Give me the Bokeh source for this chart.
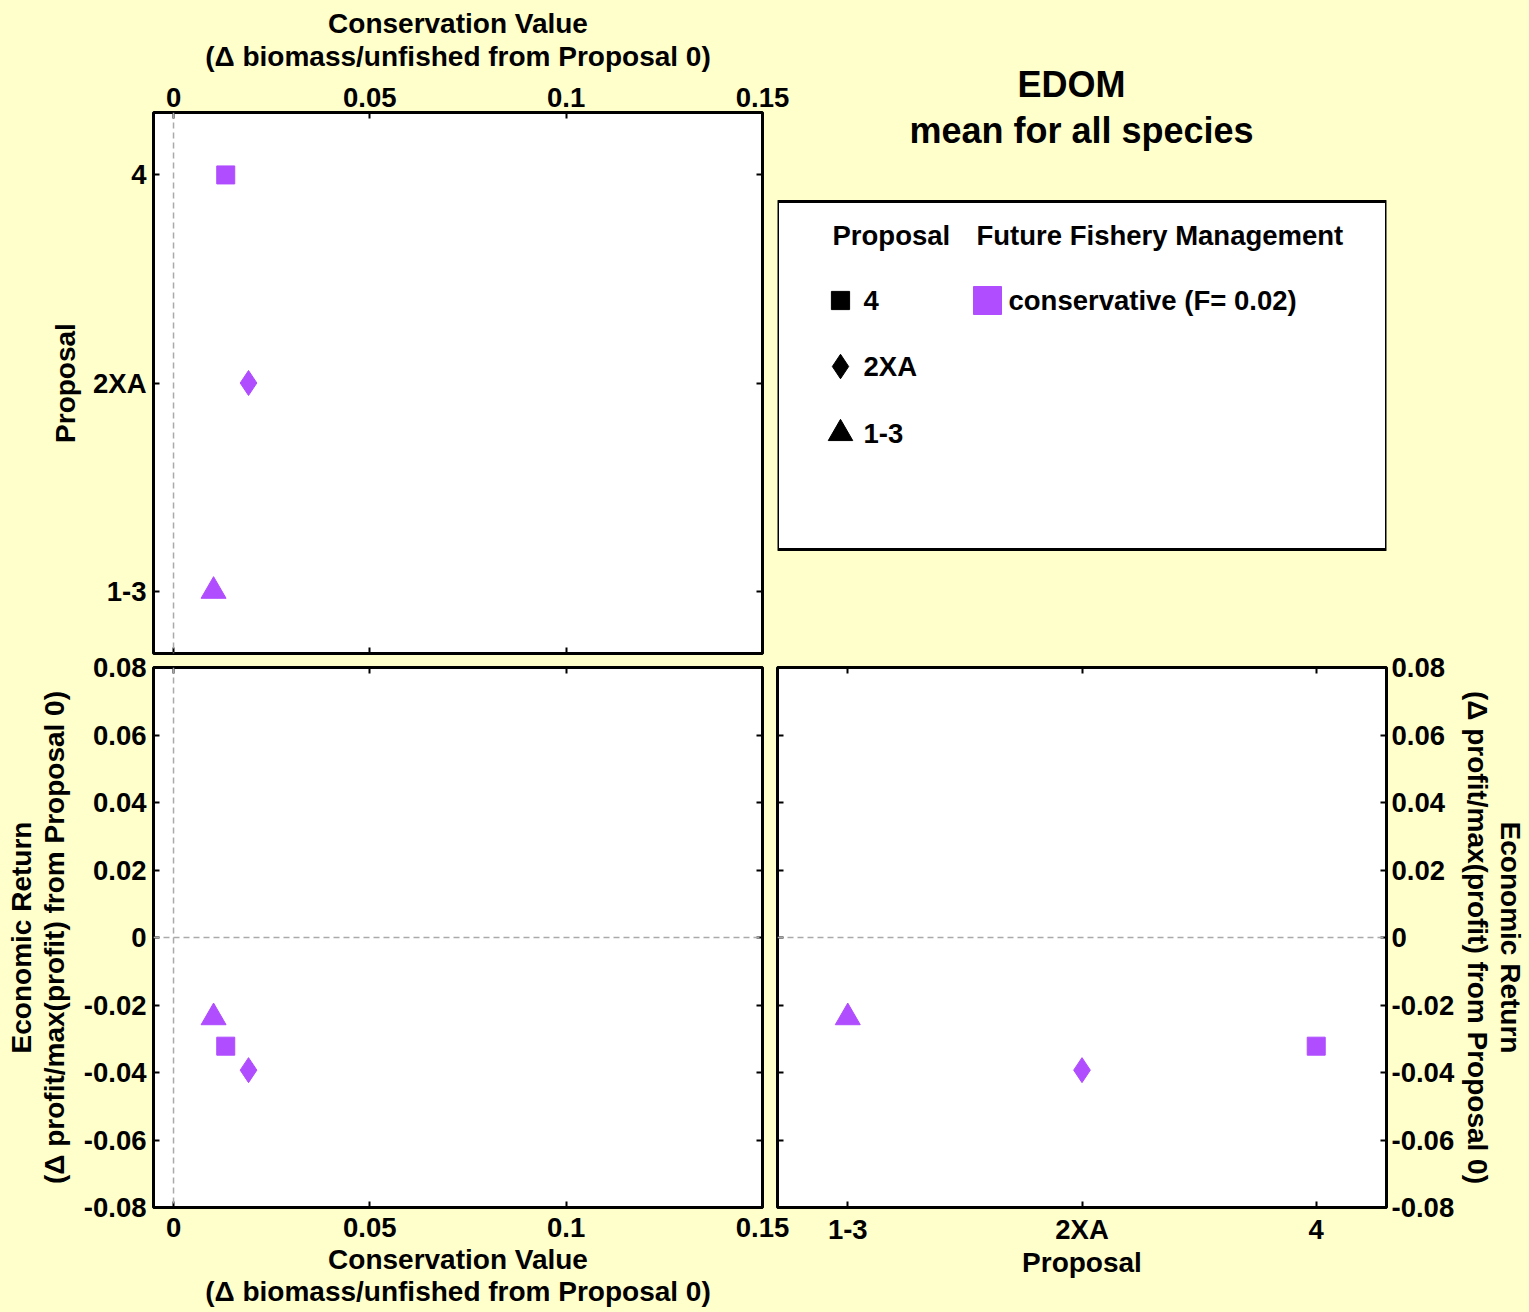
from bokeh.plotting import figure
from bokeh.models import FixedTicker, LinearAxis, Span, Range1d, Label
from bokeh.layouts import column, row
from bokeh.core.properties import value
from bokeh.embed import file_html
from bokeh.resources import INLINE

# ---- data -------------------------------------------------------------
proposal_order = ["1-3", "2XA", "4"]          # category order along the proposal axis
proposals = ["4", "2XA", "1-3"]
conservation = [0.0133, 0.0191, 0.0102]        # delta biomass/unfished from Proposal 0
economic = [-0.0322, -0.0393, -0.0237]         # delta profit/max(profit) from Proposal 0

cons_ticks = [0, 0.05, 0.1, 0.15]
cons_tick_labels = ["0", "0.05", "0.1", "0.15"]
econ_ticks = [-0.08, -0.06, -0.04, -0.02, 0, 0.02, 0.04, 0.06, 0.08]
econ_tick_labels = ["-0.08", "-0.06", "-0.04", "-0.02", "0", "0.02", "0.04", "0.06", "0.08"]

management = "conservative (F= 0.02)"
title_lines = ["EDOM", "mean for all species"]

# ---- styling ----------------------------------------------------------
BG = "#FFFFCC"
PURPLE = "#B04DFF"
FONT = "Liberation Sans"
TICK_FS = "27.5px"
LABEL_FS = "28px"
KEY_FS = "27.5px"
TITLE_FS = "36px"
LINE_H = 1.05
marker_style = {"4": ("square", 18), "2XA": ("diamond", 25), "1-3": ("triangle", 25)}

cons_label = "Conservation Value\n(\u0394 biomass/unfished from Proposal 0)"
econ_label = "Economic Return\n(\u0394 profit/max(profit) from Proposal 0)"

prop_pos = {p: i + 1 for i, p in enumerate(proposal_order)}
prop_ticks = [prop_pos[p] for p in proposal_order]
prop_overrides = {prop_pos[p]: p for p in proposal_order}
cons_overrides = dict(zip(cons_ticks, cons_tick_labels))
econ_overrides = dict(zip(econ_ticks, econ_tick_labels))

FRAME_W = 609
TOP_FRAME_H = 541
BOT_FRAME_H = 540
OVERLAP_X = 23    # right-hand panels slide under the left panels' spare border
OVERLAP_Y = 20    # bottom row slides under the top row's spare border
SPILL_R = 40      # right axis text may run past the page edge without squeezing the row


def base_fig(xr, yr, frame_h, **kw):
    p = figure(frame_width=FRAME_W, frame_height=frame_h, x_range=xr, y_range=yr,
               output_backend="svg", toolbar_location=None,
               background_fill_color="white", border_fill_alpha=0,
               outline_line_color="black", outline_line_width=3, **kw)
    p.grid.visible = False
    return p


def style_axis(ax, ticks, overrides, label=None, show_labels=True,
               tick_standoff=4, label_standoff=10):
    ax.ticker = FixedTicker(ticks=ticks)
    ax.major_label_overrides = overrides
    ax.axis_line_color = None
    ax.major_tick_in = 6
    ax.major_tick_out = 0
    ax.major_tick_line_width = 2
    ax.major_tick_line_color = "black"
    ax.minor_tick_line_color = None
    if show_labels:
        ax.major_label_text_font = FONT
        ax.major_label_text_font_style = "bold"
        ax.major_label_text_font_size = TICK_FS
        ax.major_label_text_color = "black"
        ax.major_label_standoff = tick_standoff
    else:
        ax.major_label_text_font_size = "0px"
        ax.major_label_text_color = None
        ax.major_label_standoff = 0
    if label:
        ax.axis_label = label
        ax.axis_label_text_font = FONT
        ax.axis_label_text_font_style = "bold"
        ax.axis_label_text_font_size = LABEL_FS
        ax.axis_label_text_color = "black"
        ax.axis_label_text_line_height = LINE_H
        ax.axis_label_standoff = label_standoff


def tick_only_axis(p, side, ticks, overrides):
    ax = LinearAxis()
    p.add_layout(ax, side)
    style_axis(ax, ticks, overrides, show_labels=False)


def zero_line(p, dim):
    p.add_layout(Span(location=0, dimension=dim, line_color="#AAAAAA",
                      line_width=1.5, line_dash="6 4"))


def draw_points(p, xs, ys):
    for prop, x, y in zip(proposals, xs, ys):
        marker, size = marker_style[prop]
        p.scatter([x], [y], marker=marker, size=size,
                  fill_color=PURPLE, line_color=PURPLE)


cons_range = (-0.0051, 0.15)
econ_range = (-0.08, 0.08)
prop_range = (0.7, 3.3)

# ---- top left: conservation value vs proposal --------------------------
tl = base_fig(Range1d(*cons_range), Range1d(*prop_range), TOP_FRAME_H,
              x_axis_location="above",
              min_border_left=153, min_border_right=7 + OVERLAP_X,
              min_border_top=112, min_border_bottom=7)
style_axis(tl.xaxis[0], cons_ticks, cons_overrides, cons_label,
           tick_standoff=6, label_standoff=13)
style_axis(tl.yaxis[0], prop_ticks, prop_overrides, "Proposal",
           tick_standoff=7, label_standoff=9)
tick_only_axis(tl, "below", cons_ticks, cons_overrides)
tick_only_axis(tl, "right", prop_ticks, prop_overrides)
zero_line(tl, "height")
draw_points(tl, conservation, [prop_pos[p] for p in proposals])

# ---- top right: title and key (frame spans the page box x 777-1386, y 112-653)
tr = figure(frame_width=FRAME_W, frame_height=TOP_FRAME_H,
            x_range=Range1d(777, 1386), y_range=Range1d(653, 112),
            title=title_lines[0],
            output_backend="svg", toolbar_location=None,
            x_axis_type=None, y_axis_type=None,
            min_border_left=8, min_border_right=143,
            min_border_top=112, min_border_bottom=7,
            outline_line_color=None, background_fill_alpha=0, border_fill_alpha=0,
            margin=(0, -SPILL_R, 0, -OVERLAP_X))
tr.grid.visible = False
tr.title.align = "left"
tr.title.offset = 240
tr.title.standoff = 15
tr.title.text_font = FONT
tr.title.text_font_style = "bold"
tr.title.text_font_size = TITLE_FS
tr.title.text_color = "black"
tr.add_layout(Label(x=1081, y=130, text=title_lines[1], text_align="center",
                    text_baseline="middle", text_font=FONT, text_font_style="bold",
                    text_font_size=TITLE_FS, text_color="black"))
tr.quad(left=[777], right=[1386], top=[201], bottom=[549],
        fill_color="white", line_color="black", line_width=3)
txt = dict(text_font=value(FONT), text_font_style="bold", text_color="black",
           text_baseline="middle", text_font_size=KEY_FS, text_align="left")
tr.text(x=[832, 976], y=[235, 235], text=["Proposal", "Future Fishery Management"], **txt)
key_rows = {"4": 300, "2XA": 366, "1-3": 433}
for prop in proposals:
    marker, size = marker_style[prop]
    tr.scatter([840], [key_rows[prop]], marker=marker, size=size * 0.9 + 2,
               fill_color="black", line_color="black")
tr.text(x=[863] * 3, y=[key_rows[p] for p in proposals], text=proposals, **txt)
tr.scatter([987], [300], marker="square", size=28, fill_color=PURPLE, line_color=PURPLE)
tr.text(x=[1008], y=[300], text=[management], **txt)

# ---- bottom left: conservation vs economic ------------------------------
bl = base_fig(Range1d(*cons_range), Range1d(*econ_range), BOT_FRAME_H,
              min_border_left=153, min_border_right=7 + OVERLAP_X,
              min_border_top=7 + OVERLAP_Y, min_border_bottom=105)
style_axis(bl.xaxis[0], cons_ticks, cons_overrides, cons_label,
           tick_standoff=10, label_standoff=4)
style_axis(bl.yaxis[0], econ_ticks, econ_overrides, econ_label,
           tick_standoff=7, label_standoff=11)
tick_only_axis(bl, "above", cons_ticks, cons_overrides)
tick_only_axis(bl, "right", econ_ticks, econ_overrides)
zero_line(bl, "height")
zero_line(bl, "width")
draw_points(bl, conservation, economic)

# ---- bottom right: proposal vs economic ---------------------------------
br = base_fig(Range1d(*prop_range), Range1d(*econ_range), BOT_FRAME_H,
              y_axis_location="right",
              min_border_left=8, min_border_right=143 + SPILL_R,
              min_border_top=7 + OVERLAP_Y, min_border_bottom=105,
              margin=(0, -SPILL_R, 0, -OVERLAP_X))
style_axis(br.xaxis[0], prop_ticks, prop_overrides, "Proposal",
           tick_standoff=6, label_standoff=-1)
style_axis(br.yaxis[0], econ_ticks, econ_overrides, econ_label,
           tick_standoff=5, label_standoff=5)
tick_only_axis(br, "above", prop_ticks, prop_overrides)
tick_only_axis(br, "left", econ_ticks, econ_overrides)
zero_line(br, "width")
draw_points(br, [prop_pos[p] for p in proposals], economic)

layout = column(row(tl, tr), row(bl, br, margin=(-OVERLAP_Y, 0, 0, 0)),
                width=1529, height=1312,
                styles={"background-color": BG, "overflow": "hidden"})

with open("out.html", "w") as f:
    f.write(file_html(layout, INLINE, title="EDOM mean for all species"))
